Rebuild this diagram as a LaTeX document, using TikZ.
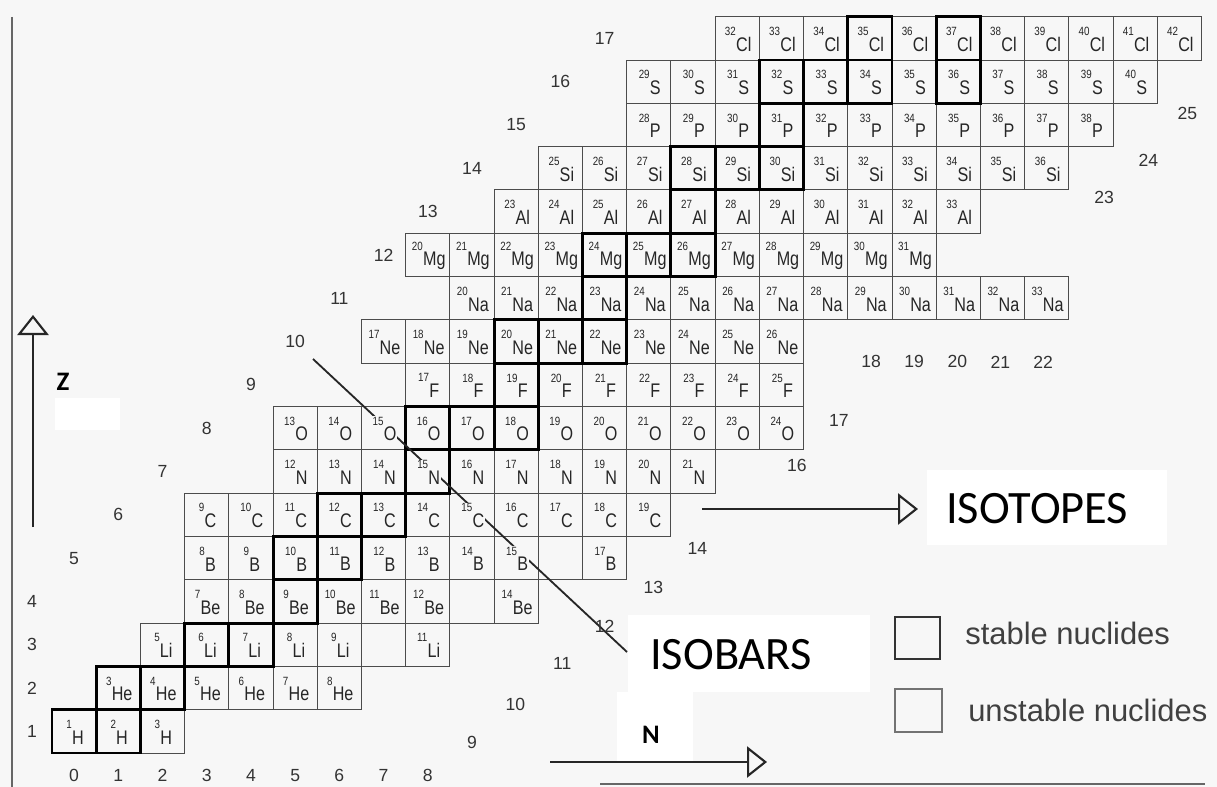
\documentclass[tikz,border=0pt]{standalone}
\usepackage{fontspec}
\setmainfont{Liberation Sans}
\newfontfamily\calibri{Carlito}
\newfontfamily\cellfont[FakeStretch=0.82]{Liberation Sans}
\usepackage{xcolor}
\usetikzlibrary{arrows.meta}

\colorlet{paper}{gray!6}
% mass number raised at the upper left of the symbol
\newcommand{\nuc}[2]{\raisebox{0.8em}{\fontsize{8.5}{9}\selectfont #1}\kern0.2pt#2}

\begin{document}
\begin{tikzpicture}[x=0.025cm, y=-0.025cm]
        \tikzset{cell style/.style={draw=black!70, line width=0.7pt}}
        \tikzset{stable style/.style={draw=black, line width=2.1pt}}
        \tikzset{nuc style/.style={fill=paper, inner sep=0.5pt, text=black!85, font=\cellfont\fontsize{14}{14}\selectfont}}
        \tikzset{axis num/.style={inner sep=0pt, text=black!80, font=\fontsize{12.5}{13}\selectfont}}
        \tikzset{arrow style/.style={line width=1.5pt, color=black!85, -{Triangle[open, length=0.5cm, width=0.78cm]}}}
        \tikzset{big label/.style={inner sep=0pt, anchor=west, font=\calibri\fontsize{33}{33}\selectfont}}
        \tikzset{legend style/.style={inner sep=0pt, anchor=west, text=black!75, font=\fontsize{22}{24}\selectfont}}

        % paper and frame
        \fill[paper] (0,0) rectangle (1217,787);
        \useasboundingbox (0,0) rectangle (1217,787);
        \draw[black!60, line width=1pt] (12,17) -- (12,787);
        \draw[black!60, line width=1pt] (600,784) -- (1205,784);

        % white patches behind the added labels
        \fill[white] (55,398) rectangle (120,430);
        \fill[white] (927,470) rectangle (1167,545);
        \fill[white] (628,615) rectangle (870,692);
        \fill[white] (617,692) rectangle (693,763);

        % chart of nuclides, one unit = one cell
        \begin{scope}[shift={(52,753)}, x=1.105cm, y=1.0825cm]
            \foreach \z/\na/\nb/\el in {1/0/2/H, 2/1/6/He, 3/2/6/Li, 4/3/8/Be, 5/3/10/B, 6/3/13/C, 7/5/14/N, 8/5/16/O, 9/8/16/F, 10/7/16/Ne, 11/9/22/Na, 12/8/19/Mg, 13/10/20/Al, 14/11/22/Si, 15/13/23/P, 16/13/24/S, 17/15/25/Cl}
                \foreach \n in {\na,...,\nb}
                    \draw[cell style] (\n,\z-1) rectangle ++(1,1);
            \foreach \n/\z in {7/3, 8/3, 9/4, 10/4, 11/5, 12/5}
                \draw[cell style] (\n,\z-1) rectangle ++(1,1);
            \foreach \n/\z in {0/1, 1/1, 1/2, 2/2, 3/3, 4/3, 5/4, 5/5, 6/5, 6/6, 7/6, 8/7, 8/8, 9/8, 10/8, 10/9, 10/10, 11/10, 12/10, 12/11, 12/12, 13/12, 14/12, 14/13, 14/14, 15/14, 16/14, 16/15, 16/16, 17/16, 18/16, 20/16, 18/17, 20/17}
                \draw[stable style] (\n,\z-1) rectangle ++(1,1);
        \end{scope}

        % isobar line A = 15
        \coordinate (abar top) at (313,359);
        \coordinate (abar end) at (627,652);
        \draw[line width=1.3pt, black!85] (abar top) -- (abar end);

        \begin{scope}[shift={(52,753)}, x=1.105cm, y=1.0825cm]
            \foreach \z/\na/\nb/\el in {1/0/2/H, 2/1/6/He, 3/2/6/Li, 4/3/8/Be, 5/3/10/B, 6/3/13/C, 7/5/14/N, 8/5/16/O, 9/8/16/F, 10/7/16/Ne, 11/9/22/Na, 12/8/19/Mg, 13/10/20/Al, 14/11/22/Si, 15/13/23/P, 16/13/24/S, 17/15/25/Cl}
                \foreach \n in {\na,...,\nb} {
                    \pgfmathtruncatemacro\mass{\n+\z}
                    \node[nuc style] (c-\n-\z) at (\n+0.52,\z-0.52) {\nuc{\mass}{\el}};
                }
            \node[nuc style] (c-8-3) at (8.52,2.48) {\nuc{11}{Li}};
            \node[nuc style] (c-10-4) at (10.52,3.48) {\nuc{14}{Be}};
            \node[nuc style] (c-12-5) at (12.52,4.48) {\nuc{17}{B}};

            % proton numbers
            \foreach \z in {1,...,4}
                \node[axis num] (z\z) at (-0.45,\z-0.5) {\z};
            \foreach \z in {5,...,17}
                \node[axis num] (z\z) at (\z-4.5,\z-0.5) {\z};
            % neutron numbers
            \foreach \n/\nx/\ny in {0/0.5/-0.51, 1/1.5/-0.51, 2/2.5/-0.51, 3/3.5/-0.51, 4/4.5/-0.51, 5/5.5/-0.51, 6/6.5/-0.51, 7/7.5/-0.51, 8/8.5/-0.51, 9/9.5/0.25, 10/10.48/1.13, 11/11.54/2.06, 12/12.5/2.92, 13/13.6/3.83, 14/14.6/4.73, 16/16.85/6.65, 17/17.8/7.67, 18/18.53/9.03, 19/19.5/9.03, 20/20.48/9.03, 21/21.45/9.03, 22/22.42/9.03, 23/23.8/12.82, 24/24.8/13.69, 25/25.68/14.76}
                \node[axis num] (n\n) at (\nx,\ny) {\n};
        \end{scope}

        % axes
        \coordinate (z foot) at (33,527);
        \coordinate (z tip) at (33,315);
        \draw[arrow style] (z foot) -- (z tip);
        \node[inner sep=0pt, font=\calibri\bfseries\fontsize{19}{19}\selectfont] (zname) at (63,382) {Z};
        \coordinate (n foot) at (550,762);
        \coordinate (n tip) at (767,762);
        \draw[arrow style] (n foot) -- (n tip);
        \node[inner sep=0pt, font=\calibri\bfseries\fontsize{19}{19}\selectfont] (nname) at (651,735) {N};

        % isotopes and isobars
        \coordinate (iso foot) at (702,509);
        \coordinate (iso tip) at (918,509);
        \draw[arrow style] (iso foot) -- (iso tip);
        \node[big label] (isotopes) at (946,509) {ISOTOPES};
        \node[big label] (isobars) at (650,655) {ISOBARS};

        % legend
        \node[draw=black!80, line width=1.6pt, minimum width=1.12cm, minimum height=1.05cm] (stable box) at (917.5,638) {};
        \node[draw=black!55, line width=0.9pt, minimum width=1.17cm, minimum height=1.07cm] (unstable box) at (918.5,710.5) {};
        \node[legend style] (stable text) at (965,633) {stable nuclides};
        \node[legend style] (unstable text) at (968,710) {unstable nuclides};
    \end{tikzpicture}
\end{document}
